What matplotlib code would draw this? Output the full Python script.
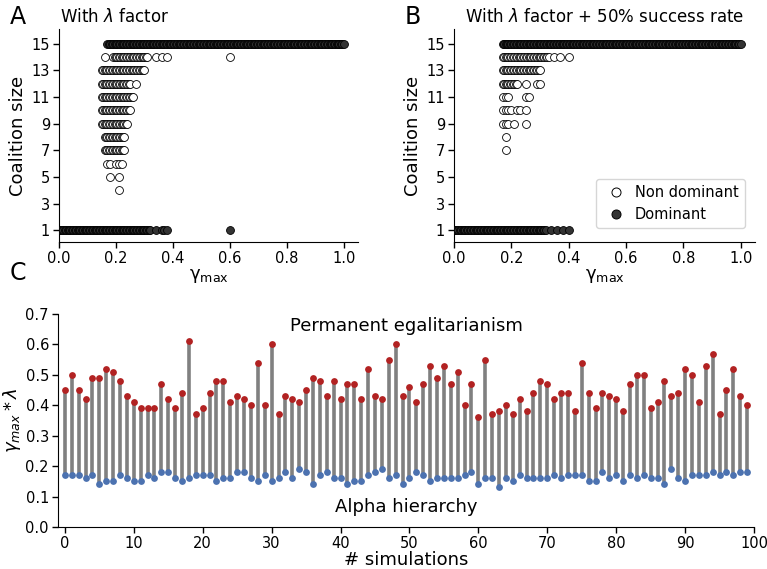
import numpy as np
import matplotlib
matplotlib.use("Agg")
import matplotlib.pyplot as plt
from matplotlib.lines import Line2D

plt.rcParams['font.family'] = ['DejaVu Sans']

def rng(a, b, step=0.005):
    n = int(round((b - a) / step))
    return [round(a + k * step, 3) for k in range(n + 1)]

# ---------- Panel A data: (gamma values, coalition size) ----------
A_dom_15 = rng(0.17, 1.00)
A_dom_1 = rng(0.00, 0.32) + [0.34, 0.36, 0.37, 0.38, 0.60]
A_nondom = {
    14: [0.16] + rng(0.19, 0.31) + [0.34, 0.36, 0.38, 0.60],
    13: rng(0.15, 0.30),
    12: rng(0.15, 0.25) + [0.27],
    11: rng(0.15, 0.26),
    10: rng(0.15, 0.25),
    9: rng(0.15, 0.24),
    8: rng(0.16, 0.23),
    7: rng(0.16, 0.23),
    6: [0.17, 0.18, 0.20, 0.21, 0.22],
    5: [0.18, 0.21],
    4: [0.21],
}

# ---------- Panel B data ----------
B_dom_15 = rng(0.17, 1.00)
B_dom_1 = rng(0.00, 0.32) + [0.34, 0.36, 0.38, 0.40]
B_nondom = {
    14: rng(0.17, 0.33) + [0.35, 0.37, 0.40],
    13: rng(0.17, 0.30),
    12: rng(0.17, 0.22) + [0.25, 0.29, 0.30],
    11: [0.17, 0.18, 0.19, 0.25, 0.26],
    10: [0.17, 0.18, 0.19, 0.20, 0.22, 0.23, 0.25],
    9: [0.17, 0.18, 0.19, 0.21, 0.25],
    8: [0.18],
    7: [0.18],
}

# ---------- Panel C data ----------
sims = list(range(100))
egal = [0.45, 0.50, 0.45, 0.42, 0.49, 0.49, 0.52, 0.51, 0.48, 0.43,
        0.41, 0.39, 0.39, 0.39, 0.47, 0.42, 0.39, 0.44, 0.61, 0.37,
        0.39, 0.44, 0.48, 0.48, 0.41, 0.43, 0.42, 0.40, 0.54, 0.40,
        0.60, 0.37, 0.43, 0.42, 0.41, 0.45, 0.49, 0.48, 0.43, 0.48,
        0.42, 0.47, 0.47, 0.42, 0.52, 0.43, 0.42, 0.55, 0.60, 0.43,
        0.46, 0.41, 0.47, 0.53, 0.49, 0.53, 0.47, 0.51, 0.40, 0.47,
        0.36, 0.55, 0.37, 0.38, 0.40, 0.37, 0.42, 0.38, 0.44, 0.48,
        0.47, 0.42, 0.44, 0.44, 0.38, 0.54, 0.44, 0.39, 0.44, 0.43,
        0.42, 0.38, 0.47, 0.50, 0.50, 0.39, 0.41, 0.48, 0.43, 0.44,
        0.52, 0.50, 0.41, 0.53, 0.57, 0.37, 0.45, 0.52, 0.43, 0.40]
alpha = [0.17, 0.17, 0.17, 0.16, 0.17, 0.14, 0.15, 0.15, 0.17, 0.16,
         0.15, 0.15, 0.17, 0.16, 0.18, 0.18, 0.16, 0.15, 0.16, 0.17,
         0.17, 0.17, 0.15, 0.16, 0.16, 0.18, 0.18, 0.16, 0.15, 0.17,
         0.15, 0.16, 0.18, 0.16, 0.19, 0.18, 0.14, 0.17, 0.18, 0.16,
         0.16, 0.14, 0.15, 0.15, 0.17, 0.18, 0.19, 0.16, 0.17, 0.14,
         0.16, 0.18, 0.17, 0.15, 0.16, 0.16, 0.16, 0.16, 0.17, 0.18,
         0.14, 0.16, 0.16, 0.13, 0.16, 0.15, 0.17, 0.16, 0.16, 0.16,
         0.16, 0.17, 0.16, 0.17, 0.17, 0.17, 0.15, 0.15, 0.18, 0.16,
         0.17, 0.15, 0.17, 0.16, 0.17, 0.16, 0.16, 0.14, 0.19, 0.16,
         0.15, 0.17, 0.17, 0.17, 0.18, 0.17, 0.18, 0.17, 0.18, 0.18]

W, H = 767, 569
fig = plt.figure(figsize=(W / 100, H / 100), dpi=100)

def ax_px(l, r, t, b):
    return fig.add_axes([l / W, 1 - b / H, (r - l) / W, (b - t) / H])

DOM_C = '#333333'
MS = 32

def scatter_panel(ax, dom15, dom1, nondom):
    for size, xs in nondom.items():
        ax.scatter(xs, [size] * len(xs), s=MS, facecolor='white',
                   edgecolor='black', linewidth=0.6, zorder=3)
    ax.scatter(dom15, [15] * len(dom15), s=MS, facecolor=DOM_C,
               edgecolor='black', linewidth=0.6, zorder=3)
    ax.scatter(dom1, [1] * len(dom1), s=MS, facecolor=DOM_C,
               edgecolor='black', linewidth=0.6, zorder=3)
    ax.set_xlim(0, 1.05)
    ax.set_ylim(0.12, 16.1)
    ax.set_yticks([1, 3, 5, 7, 9, 11, 13, 15])
    ax.set_xticks([0, 0.2, 0.4, 0.6, 0.8, 1.0])
    ax.set_xticklabels(['0.0', '0.2', '0.4', '0.6', '0.8', '1.0'])
    ax.set_xlabel('γ$_{\\mathrm{max}}$', fontsize=13, labelpad=1)
    ax.set_ylabel('Coalition size', fontsize=13, labelpad=3)
    for s in ['top', 'right']:
        ax.spines[s].set_visible(False)
    ax.tick_params(labelsize=10.5, length=4, width=1, pad=2.5)

axA = ax_px(59, 358, 29, 242)
scatter_panel(axA, A_dom_15, A_dom_1, A_nondom)
axB = ax_px(454, 755, 29, 242)
scatter_panel(axB, B_dom_15, B_dom_1, B_nondom)

handles = [Line2D([], [], marker='o', linestyle='none', markerfacecolor='white',
                  markeredgecolor='black', markersize=6.5, markeredgewidth=0.7),
           Line2D([], [], marker='o', linestyle='none', markerfacecolor=DOM_C,
                  markeredgecolor='black', markersize=6.5, markeredgewidth=0.7)]
axB.legend(handles, ['Non dominant', 'Dominant'], loc='lower right',
           fontsize=10.5, handletextpad=0.3, borderpad=0.4,
           bbox_to_anchor=(0.99, 0.03))

fig.text(10 / W, 1 - 17 / H, 'A', fontsize=17, va='center', ha='left')
fig.text(60 / W, 1 - 17 / H, 'With $\\lambda$ factor', fontsize=12, va='center', ha='left')
fig.text(405 / W, 1 - 17 / H, 'B', fontsize=17, va='center', ha='left')
fig.text(465 / W, 1 - 17 / H, 'With $\\lambda$ factor + 50% success rate', fontsize=12,
         va='center', ha='left')
fig.text(10 / W, 1 - 273 / H, 'C', fontsize=17, va='center', ha='left')

# ---------- Panel C ----------
axC = ax_px(58, 754, 314, 527)
axC.vlines(sims, alpha, egal, color='#808080', linewidth=2.6, zorder=1)
axC.scatter(sims, egal, s=24, color='#b22222', zorder=3, linewidth=0)
axC.scatter(sims, alpha, s=24, color='#4c72b0', zorder=3, linewidth=0)
axC.set_xlim(-1, 100)
axC.set_ylim(0, 0.7)
axC.set_xticks(range(0, 101, 10))
axC.set_yticks(np.arange(0, 0.71, 0.1))
axC.set_yticklabels(['0.0', '0.1', '0.2', '0.3', '0.4', '0.5', '0.6', '0.7'])
axC.set_xlabel('# simulations', fontsize=13, labelpad=0)
axC.set_ylabel('$\\gamma_{max} * \\lambda$', fontsize=13, labelpad=2)
axC.text(49.5, 0.66, 'Permanent egalitarianism', fontsize=13, ha='center', va='center')
axC.text(49.5, 0.065, 'Alpha hierarchy', fontsize=13, ha='center', va='center')
for s in ['top', 'right']:
    axC.spines[s].set_visible(False)
axC.tick_params(labelsize=10.5, length=4, width=1, pad=2.5)

fig.savefig('out.png', dpi=100)
